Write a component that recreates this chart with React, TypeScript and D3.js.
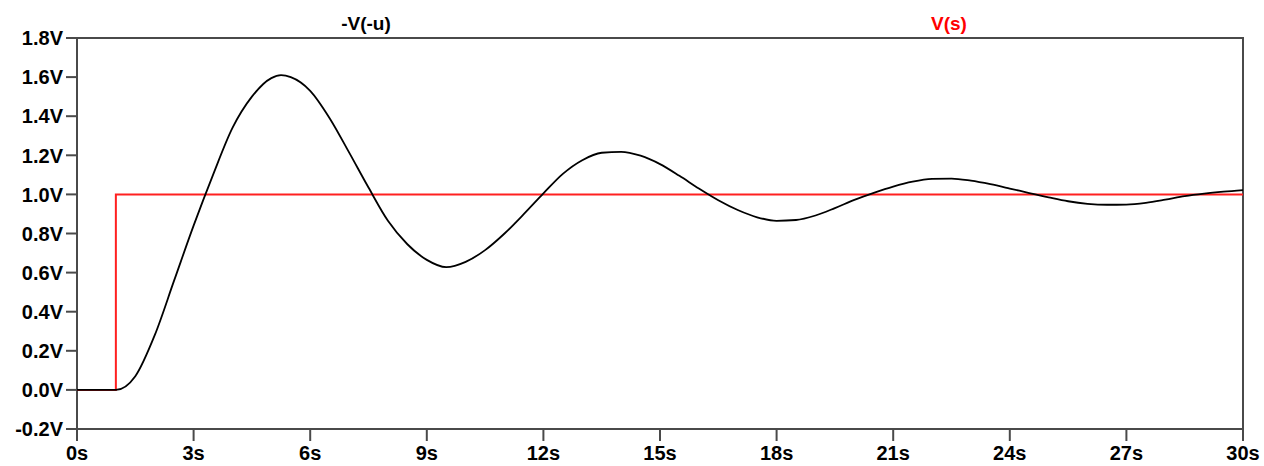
import React from "react";
import * as d3 from "d3";

const outTimes = [0, 1.0, 1.5, 2.0, 2.5, 3.0, 3.5, 4.0, 4.5, 5.0, 5.25, 5.5, 6.0, 6.5, 7.0, 7.5, 8.0, 8.5, 9.0, 9.5, 10.0, 10.5, 11.0, 11.5, 12.0, 12.5, 13.0, 13.5, 14.0, 14.5, 15.0, 15.5, 16.0, 16.5, 17.0, 17.5, 18.0, 18.5, 19.0, 19.5, 20.0, 20.5, 21.0, 21.5, 22.0, 22.5, 23.0, 23.5, 24.0, 24.5, 25.0, 25.5, 26.0, 26.5, 27.0, 27.5, 28.0, 28.5, 29.0, 29.5, 30.0];
const outValues = [0, 0, 0.07, 0.28, 0.56, 0.84, 1.10, 1.34, 1.50, 1.595, 1.61, 1.60, 1.53, 1.39, 1.215, 1.035, 0.865, 0.745, 0.665, 0.628, 0.655, 0.715, 0.80, 0.90, 1.005, 1.105, 1.175, 1.213, 1.218, 1.198, 1.155, 1.095, 1.03, 0.97, 0.92, 0.883, 0.865, 0.869, 0.892, 0.93, 0.972, 1.008, 1.04, 1.065, 1.079, 1.081, 1.07, 1.052, 1.03, 1.007, 0.985, 0.965, 0.952, 0.947, 0.948, 0.957, 0.973, 0.991, 1.004, 1.014, 1.022];

const stepTimes = [0, 1, 1, 30];
const stepValues = [0, 0, 1, 1];

const yTicks = [-0.2, 0, 0.2, 0.4, 0.6, 0.8, 1.0, 1.2, 1.4, 1.6, 1.8];
const xTicks = [0, 3, 6, 9, 12, 15, 18, 21, 24, 27, 30];

const seriesNames = ["-V(-u)", "V(s)"];

export default function App() {
  const W = 1264, H = 466;
  const left = 77, right = 1243, top = 38, bottom = 429;
  const x = d3.scaleLinear().domain([0, 30]).range([left, right]);
  const y = d3.scaleLinear().domain([-0.2, 1.8]).range([bottom, top]);

  const line = d3.line<[number, number]>().x(d => x(d[0])).y(d => y(d[1])).curve(d3.curveMonotoneX);
  const stepLine = d3.line<[number, number]>().x(d => x(d[0])).y(d => y(d[1]));

  const outPts = outTimes.map((t, i) => [t, outValues[i]] as [number, number]);
  const stepPts = stepTimes.map((t, i) => [t, stepValues[i]] as [number, number]);

  const font = "'Liberation Sans', Arial, sans-serif";
  const axisColor = "#4a4a4a";

  return (
    <svg width={W} height={H} style={{ position: "absolute", left: 0, top: 0, background: "#fff" }}>
      <rect x={left} y={top} width={right - left} height={bottom - top} fill="none" stroke={axisColor} strokeWidth={2} />
      {yTicks.map(v => (
        <g key={"y" + v}>
          <line x1={left - 11} x2={left} y1={y(v)} y2={y(v)} stroke={axisColor} strokeWidth={2} />
          <text x={left - 14} y={y(v)} dy="0.36em" textAnchor="end" fontFamily={font} fontWeight="bold" fontSize={20} fill="#000">
            {v.toFixed(1) + "V"}
          </text>
        </g>
      ))}
      {xTicks.map(t => (
        <g key={"x" + t}>
          <line x1={x(t)} x2={x(t)} y1={bottom} y2={bottom + 12} stroke={axisColor} strokeWidth={2} />
          <text x={x(t)} y={460} textAnchor="middle" fontFamily={font} fontWeight="bold" fontSize={20} fill="#000">
            {t + "s"}
          </text>
        </g>
      ))}
      <path d={stepLine(stepPts) || ""} fill="none" stroke="#ff2020" strokeWidth={2} />
      <path d={line(outPts) || ""} fill="none" stroke="#000" strokeWidth={1.8} />
      <text x={366} y={30} textAnchor="middle" fontFamily={font} fontWeight="bold" fontSize={19} fill="#000">{seriesNames[0]}</text>
      <text x={949} y={30} textAnchor="middle" fontFamily={font} fontWeight="bold" fontSize={19} fill="#ff0000">{seriesNames[1]}</text>
    </svg>
  );
}
